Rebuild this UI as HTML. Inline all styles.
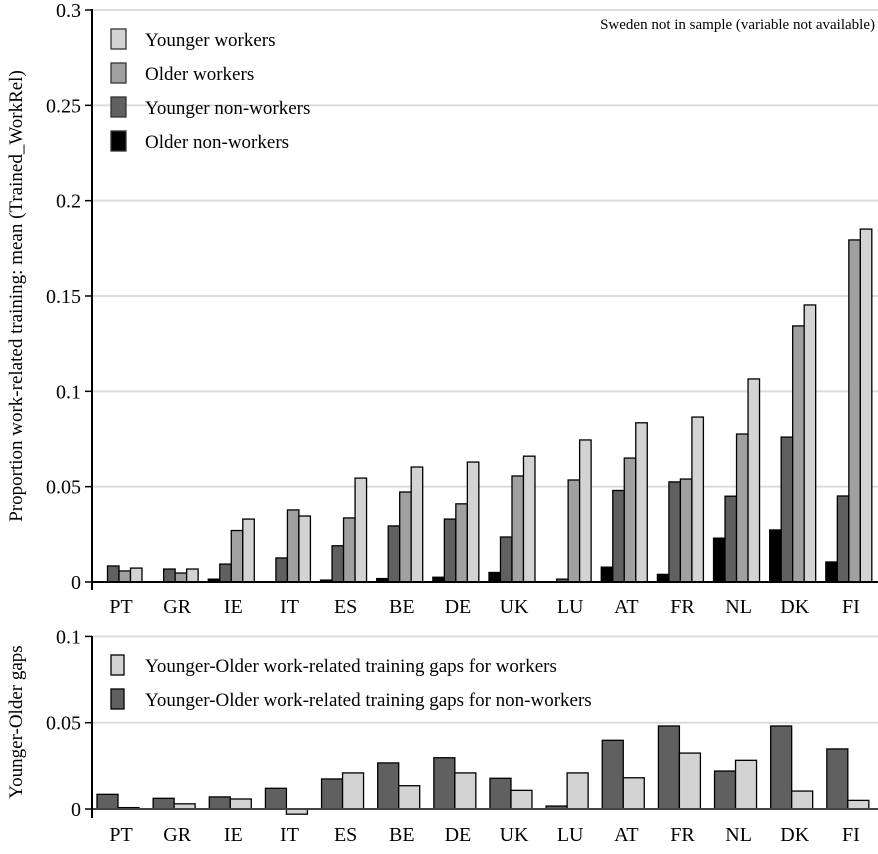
<!DOCTYPE html>
<html><head><meta charset="utf-8"><style>
body{margin:0;background:#fff}
svg text{font-family:"Liberation Serif",serif;fill:#000}
</style></head><body>
<svg id="chart" width="878" height="849" xmlns="http://www.w3.org/2000/svg"></svg>
<script>
const categories=["PT","GR","IE","IT","ES","BE","DE","UK","LU","AT","FR","NL","DK","FI"];
const olderNonWorkers=[0,0,0.0015,0,0.001,0.0018,0.0025,0.005,0,0.0078,0.004,0.023,0.0273,0.0105];
const youngerNonWorkers=[0.0084,0.0068,0.0094,0.0126,0.019,0.0294,0.033,0.0236,0.0015,0.048,0.0525,0.045,0.076,0.0451];
const olderWorkers=[0.0058,0.0047,0.027,0.0378,0.0336,0.0472,0.041,0.0556,0.0535,0.065,0.054,0.0776,0.1343,0.1794];
const youngerWorkers=[0.0073,0.0068,0.033,0.0346,0.0545,0.0603,0.0629,0.066,0.0745,0.0835,0.0865,0.1065,0.1453,0.1851];
const gapNonWorkers=[0.0085,0.0062,0.007,0.012,0.0174,0.0267,0.0297,0.0178,0.0017,0.0398,0.0481,0.022,0.0481,0.0348];
const gapWorkers=[0.0008,0.003,0.0058,-0.003,0.0209,0.0135,0.0209,0.0108,0.0209,0.0181,0.0324,0.0282,0.0104,0.005];
const topTicks=[0,0.05,0.1,0.15,0.2,0.25,0.3];
const topTickLabels=["0","0.05","0.1","0.15","0.2","0.25","0.3"];
const botTicks=[0,0.05,0.1];
const botTickLabels=["0","0.05","0.1"];

const svg=document.getElementById('chart');
const NS='http://www.w3.org/2000/svg';
function mk(tag,attrs,parent){const e=document.createElementNS(NS,tag);for(const k in attrs)e.setAttribute(k,attrs[k]);(parent||svg).appendChild(e);return e;}
const x0=92,band=56.14;
const xBand=i=>x0+i*band;
const yTop=v=>582-v*1906.7;
const yBot=v=>809-v*1726;

topTicks.forEach((t,i)=>{
  if(t>0){const g=mk('line',{x1:x0,x2:878,y1:yTop(t),y2:yTop(t),stroke:'#dcdcdc','stroke-width':2});
  
  }
  mk('line',{x1:85,x2:x0,y1:yTop(t),y2:yTop(t),stroke:'#000','stroke-width':1.5});
  const tx=mk('text',{x:81,y:yTop(t)+7,'text-anchor':'end','font-size':20});
  tx.textContent=topTickLabels[i];
  
  
});
const series=[[olderNonWorkers,'#000'],[youngerNonWorkers,'#606060'],[olderWorkers,'#a0a0a0'],[youngerWorkers,'#d3d3d3']];
const bw=11.5;
categories.forEach((c,i)=>{
  const gx=xBand(i)+4;
  series.forEach((s,j)=>{
    const v=s[0][i];
    if(v<=0)return;
    const r=mk('rect',{x:gx+j*bw,y:yTop(v),width:bw,height:582-yTop(v),fill:s[1],stroke:'#000','stroke-width':1.3});
    
    
  });
  const t=mk('text',{x:xBand(i)+band/2+1,y:613,'text-anchor':'middle','font-size':20});
  t.textContent=c;
  
  
});
mk('line',{x1:x0,x2:878,y1:582,y2:582,stroke:'#000','stroke-width':2});
mk('line',{x1:x0,x2:x0,y1:9,y2:590,stroke:'#000','stroke-width':2});
const yt=mk('text',{x:0,y:0,transform:'translate(22,296) rotate(-90)','text-anchor':'middle','font-size':19});
yt.textContent='Proportion work-related training: mean (Trained_WorkRel)';


const note=mk('text',{x:875,y:29,'text-anchor':'end','font-size':15});
note.textContent='Sweden not in sample (variable not available)';


const legItems=[['Younger workers','#d3d3d3'],['Older   workers','#a0a0a0'],['Younger non-workers','#606060'],['Older   non-workers','#000']];
legItems.forEach((l,i)=>{
  const y=29+i*34;
  const r=mk('rect',{x:111,y:y,width:15,height:20,fill:l[1],stroke:'#333','stroke-width':1.3});
  
  
  const t=mk('text',{x:145,y:y+17,'font-size':19,'xml:space':'preserve'});
  t.textContent=l[0];
  
  
});

botTicks.forEach((t,i)=>{
  if(t>0){const g=mk('line',{x1:x0,x2:878,y1:yBot(t),y2:yBot(t),stroke:'#dcdcdc','stroke-width':2});
  
  }
  mk('line',{x1:85,x2:x0,y1:yBot(t),y2:yBot(t),stroke:'#000','stroke-width':1.5});
  const tx=mk('text',{x:81,y:yBot(t)+7,'text-anchor':'end','font-size':20});
  tx.textContent=botTickLabels[i];
  
  
});
const bw2=21;
categories.forEach((c,i)=>{
  const gx=xBand(i)+5;
  [[gapNonWorkers,'#606060'],[gapWorkers,'#d3d3d3']].forEach((s,j)=>{
    const v=s[0][i];
    const y1=Math.min(yBot(v),yBot(0)),h=Math.abs(yBot(v)-yBot(0));
    const r=mk('rect',{x:gx+j*bw2,y:y1,width:bw2,height:h,fill:s[1],stroke:'#000','stroke-width':1.3});
    
    
  });
  const t=mk('text',{x:xBand(i)+band/2+1,y:841,'text-anchor':'middle','font-size':20});
  t.textContent=c;
  
  
});
mk('line',{x1:x0,x2:878,y1:yBot(0),y2:yBot(0),stroke:'#444','stroke-width':2});
mk('line',{x1:x0,x2:x0,y1:636,y2:818,stroke:'#000','stroke-width':2});
const yt2=mk('text',{x:0,y:0,transform:'translate(22,722) rotate(-90)','text-anchor':'middle','font-size':19});
yt2.textContent='Younger-Older gaps';


const leg2=[['Younger-Older work-related training gaps for workers','#d3d3d3'],['Younger-Older work-related training gaps for non-workers','#606060']];
leg2.forEach((l,i)=>{
  const y=655+i*34;
  const r=mk('rect',{x:111,y:y,width:13,height:20,fill:l[1],stroke:'#000','stroke-width':1.3});
  
  
  const t=mk('text',{x:145,y:y+17,'font-size':19});
  t.textContent=l[0];
  
  
});
</script>
</body></html>
